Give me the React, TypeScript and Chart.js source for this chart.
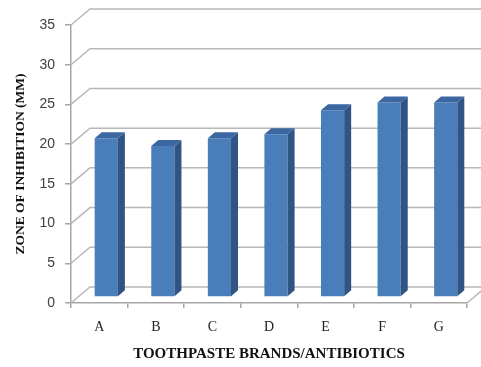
import React, { useEffect, useRef } from 'react';
import { Chart, registerables } from 'chart.js';

Chart.register(...registerables);

const categories = ['A', 'B', 'C', 'D', 'E', 'F', 'G'];
const zoneValues = [20, 19, 20, 20.5, 23.5, 24.5, 24.5];
const yTicks = [0, 5, 10, 15, 20, 25, 30, 35];
const yTitle = 'ZONE OF INHIBITION (MM)';
const xTitle = 'TOOTHPASTE BRANDS/ANTIBIOTICS';

const BAR_OFF_X = 7;
const BAR_OFF_Y = -6;
const BAR_DX = 7;
const BAR_DY = -6;
const WALL_DX = 19;
const WALL_DY = -16;

const FRONT = '#4a7ebb';
const SIDE = '#305584';
const TOP = '#3c67a0';
const GRID = '#b8b8b8';
const AXIS = '#a6a6a6';

const threeD = {
  id: 'threeD',
  beforeDatasetsDraw(chart: any) {
    const { ctx, chartArea, scales } = chart;
    const y = scales.y;
    ctx.save();
    ctx.strokeStyle = GRID;
    ctx.lineWidth = 1.5;
    for (const v of yTicks) {
      const py = y.getPixelForValue(v);
      ctx.beginPath();
      ctx.moveTo(chartArea.left, py);
      ctx.lineTo(chartArea.left + WALL_DX, py + WALL_DY);
      ctx.lineTo(chartArea.right + WALL_DX, py + WALL_DY);
      ctx.stroke();
    }
    const p0 = y.getPixelForValue(0);
    ctx.beginPath();
    ctx.moveTo(chartArea.right, p0);
    ctx.lineTo(chartArea.right + WALL_DX, p0 + WALL_DY);
    ctx.stroke();
    ctx.restore();
    ctx.save();
    ctx.translate(BAR_OFF_X, BAR_OFF_Y);
  },
  afterDatasetsDraw(chart: any) {
    const ctx = chart.ctx;
    const meta = chart.getDatasetMeta(0);
    meta.data.forEach((bar: any) => {
      const { x, y, base, width } = bar.getProps(['x', 'y', 'base', 'width'], true);
      const l = x - width / 2;
      const r = x + width / 2;
      ctx.fillStyle = SIDE;
      ctx.beginPath();
      ctx.moveTo(r, y);
      ctx.lineTo(r + BAR_DX, y + BAR_DY);
      ctx.lineTo(r + BAR_DX, base + BAR_DY);
      ctx.lineTo(r, base);
      ctx.closePath();
      ctx.fill();
      ctx.fillStyle = TOP;
      ctx.beginPath();
      ctx.moveTo(l, y);
      ctx.lineTo(l + BAR_DX, y + BAR_DY);
      ctx.lineTo(r + BAR_DX, y + BAR_DY);
      ctx.lineTo(r, y);
      ctx.closePath();
      ctx.fill();
    });
    ctx.restore();
  },
};

export default function App() {
  const canvasRef = useRef<HTMLCanvasElement>(null);

  useEffect(() => {
    document.body.style.margin = '0';
    const canvas = canvasRef.current;
    if (!canvas) return;
    const chart = new Chart(canvas, {
      type: 'bar',
      data: {
        labels: categories,
        datasets: [
          {
            data: zoneValues,
            backgroundColor: FRONT,
            borderWidth: 0,
            barPercentage: 0.41,
            categoryPercentage: 1,
            clip: false as any,
          },
        ],
      },
      options: {
        animation: false,
        responsive: true,
        maintainAspectRatio: false,
        events: [],
        layout: { padding: { top: 25, right: 14, left: 0, bottom: 0 } },
        plugins: {
          legend: { display: false },
          tooltip: { enabled: false },
        },
        scales: {
          x: {
            offset: true,
            afterFit: (s: any) => {
              s.height = 64;
            },
            grid: {
              display: true,
              drawOnChartArea: false,
              drawTicks: true,
              tickLength: 5,
              color: AXIS,
              lineWidth: 1.5,
            },
            border: { display: true, color: AXIS, width: 1.5 },
            ticks: {
              color: '#222',
              padding: 11,
              font: { family: 'Liberation Serif', size: 14 },
            },
            title: {
              display: true,
              text: xTitle,
              color: '#111',
              font: { family: 'Liberation Serif', size: 15, weight: 'bold' },
              padding: { top: 4, bottom: 4 },
            },
          },
          y: {
            min: 0,
            max: 35,
            afterFit: (s: any) => {
              s.width = 71;
            },
            ticks: {
              stepSize: 5,
              color: '#404040',
              padding: 10,
              font: { family: 'Liberation Sans', size: 14 },
            },
            grid: {
              display: true,
              drawOnChartArea: false,
              drawTicks: true,
              tickLength: 6,
              color: AXIS,
              lineWidth: 1.5,
            },
            border: { display: true, color: AXIS, width: 1.5 },
            title: {
              display: true,
              text: yTitle,
              color: '#111',
              font: { family: 'Liberation Serif', size: 13.5, weight: 'bold' },
              padding: { top: 12, bottom: 4 },
            },
          },
        },
      },
      plugins: [threeD],
    });
    return () => chart.destroy();
  }, []);

  return (
    <div style={{ width: 481, height: 367, position: 'relative' }}>
      <canvas ref={canvasRef} />
    </div>
  );
}
